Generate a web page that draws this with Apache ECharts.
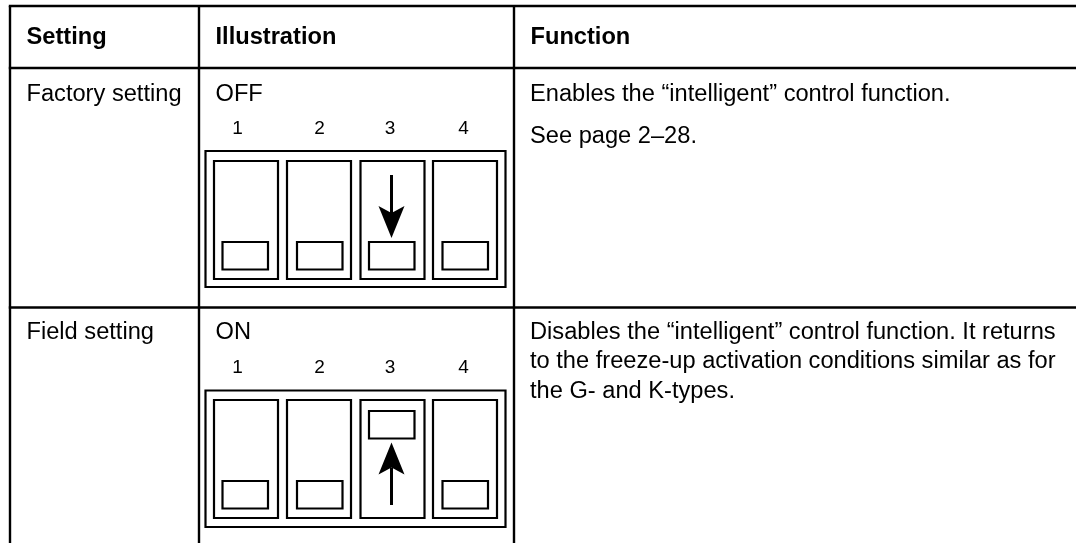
<!DOCTYPE html>
<html>
<head>
<meta charset="utf-8">
<style>html,body{margin:0;padding:0;background:#fff}#c{width:1076px;height:543px}</style>
<script src="https://cdn.jsdelivr.net/npm/echarts@6/dist/echarts.min.js"></script>
</head>
<body>
<div id="c"></div>
<script>
// ---- content ----
const headers = ['Setting', 'Illustration', 'Function'];
const settings = ['Factory setting', 'Field setting'];
const illustrationLabels = ['OFF', 'ON'];
const switchNumbers = ['1', '2', '3', '4'];
const row1SwitchUp = [0, 0, 0, 0];
const row2SwitchUp = [0, 0, 1, 0];
const row1ArrowOn = [0, 0, 1, 0];
const row2ArrowOn = [0, 0, 1, 0];
const functionRow1 = ['Enables the “intelligent” control function.', 'See page 2–28.'];
const functionRow2 = ['Disables the “intelligent” control function. It returns',
  'to the freeze-up activation conditions similar as for', 'the G- and K-types.'];

// ---- layout (page units on a 1:1 hidden axis) ----
const L = {
  left: 10, col2: 199, col3: 514, right: 1076,
  top: 6, head: 68, row2: 307.5, bottom: 543, headText: 37.5,
  textPad: 16.5, lineW: 2.2, tableW: 2.4, bodySize: 23.65, numSize: 19,
  boxX0: 205.5, boxX1: 505.5,
  swX0: [214, 287, 360.5, 433], swW: 64,
  knobX0: [222.5, 297, 369, 442.5], knobW: 45.5,
  numX: [237.5, 319.5, 390, 463.5],
  rows: [
    {head: 94, num: 128.7, box0: 151, box1: 287, sw0: 161, sw1: 279, knobDown: 242, knobUp: 0, knobH: 27.5,
     arrow: {tail: 175, tip: 238, barb: 206, notch: 213}, fn: [94, 136.3]},
    {head: 332.2, num: 368, box0: 390.5, box1: 527, sw0: 400, sw1: 518, knobDown: 481, knobUp: 411, knobH: 27.5,
     arrow: {tail: 505, tip: 442.5, barb: 474.5, notch: 467.5}, fn: [332.2, 361.6, 391]}
  ],
  arrowX: 391.5, arrowHalf: 13
};
const FONT = '"Liberation Sans", Arial, Helvetica, sans-serif';
const K = '#000';

function text(api, x, y, s, size, bold) {
  const p = api.coord([x, y]);
  return {type: 'text', silent: true, style: {x: p[0], y: p[1], text: s, fill: K,
    font: (bold ? 'bold ' : '') + size + 'px ' + FONT, textAlign: 'left', textVerticalAlign: 'middle'}};
}
function seg(api, x0, y0, x1, y1, w) {
  const a = api.coord([x0, y0]), b = api.coord([x1, y1]);
  return {type: 'line', shape: {x1: a[0], y1: a[1], x2: b[0], y2: b[1]},
    style: {stroke: K, lineWidth: w || L.lineW, lineCap: 'butt'}};
}
function box(api, x0, y0, x1, y1) {
  const a = api.coord([x0, y0]), b = api.coord([x1, y1]);
  return {type: 'rect', shape: {x: a[0], y: a[1], width: b[0] - a[0], height: b[1] - a[1]},
    style: {fill: 'transparent', stroke: K, lineWidth: L.lineW}};
}

// one data item per drawn thing; kind selects the renderer
const items = [];
items.push(['grid']);
headers.forEach((h, i) => items.push(['header', i]));
[0, 1].forEach(r => {
  items.push(['rowText', r]);
  const up = r ? row2SwitchUp : row1SwitchUp;
  const ar = r ? row2ArrowOn : row1ArrowOn;
  items.push(['frame', r]);
  switchNumbers.forEach((n, i) => items.push(['switch', r, i, up[i], ar[i]]));
});

function renderItem(params, api) {
  const d = items[params.dataIndex];
  const kind = d[0], ch = [];
  if (kind === 'grid') {
    [L.top, L.head, L.row2].forEach(y => ch.push(seg(api, L.left - 1.2, y, L.right, y, L.tableW)));
    [L.left, L.col2, L.col3].forEach(x => ch.push(seg(api, x, L.top, x, L.bottom, L.tableW)));
  } else if (kind === 'header') {
    const x = [L.left, L.col2, L.col3][d[1]] + L.textPad;
    ch.push(text(api, x, L.headText, headers[d[1]], L.bodySize, true));
  } else if (kind === 'rowText') {
    const R = L.rows[d[1]];
    ch.push(text(api, L.left + L.textPad, R.head, settings[d[1]], L.bodySize));
    ch.push(text(api, L.col2 + L.textPad, R.head, illustrationLabels[d[1]], L.bodySize));
    const lines = d[1] ? functionRow2 : functionRow1;
    lines.forEach((s, i) => ch.push(text(api, L.col3 + L.textPad - 0.5, R.fn[i], s, L.bodySize)));
  } else if (kind === 'frame') {
    const R = L.rows[d[1]];
    ch.push(box(api, L.boxX0, R.box0, L.boxX1, R.box1));
  } else if (kind === 'switch') {
    const R = L.rows[d[1]], i = d[2];
    ch.push(box(api, L.swX0[i], R.sw0, L.swX0[i] + L.swW, R.sw1));
    const ky = d[3] ? R.knobUp : R.knobDown;
    ch.push(box(api, L.knobX0[i], ky, L.knobX0[i] + L.knobW, ky + R.knobH));
    const t = text(api, L.numX[i], R.num, switchNumbers[i], L.numSize);
    t.style.textAlign = 'center';
    ch.push(t);
    if (d[4]) {
      const A = R.arrow, X = L.arrowX, H = L.arrowHalf;
      ch.push(seg(api, X, A.tail, X, A.notch, 3));
      const pts = [[X, A.tip], [X - H, A.barb], [X, A.notch], [X + H, A.barb]].map(p => api.coord(p));
      ch.push({type: 'polygon', shape: {points: pts}, style: {fill: K}});
    }
  }
  return {type: 'group', children: ch};
}

const chart = echarts.init(document.getElementById('c'), null, {renderer: 'canvas'});
chart.setOption({
  animation: false,
  backgroundColor: '#fff',
  tooltip: {show: false},
  grid: {left: 0, right: 0, top: 0, bottom: 0, containLabel: false},
  xAxis: {type: 'value', min: 0, max: 1076, show: false},
  yAxis: {type: 'value', min: 0, max: 543, inverse: true, show: false},
  series: [{type: 'custom', silent: true, clip: false, coordinateSystem: 'cartesian2d',
    data: items.map((d, i) => [i, 0]), encode: {x: 0, y: 1}, renderItem}]
});
</script>
</body>
</html>
